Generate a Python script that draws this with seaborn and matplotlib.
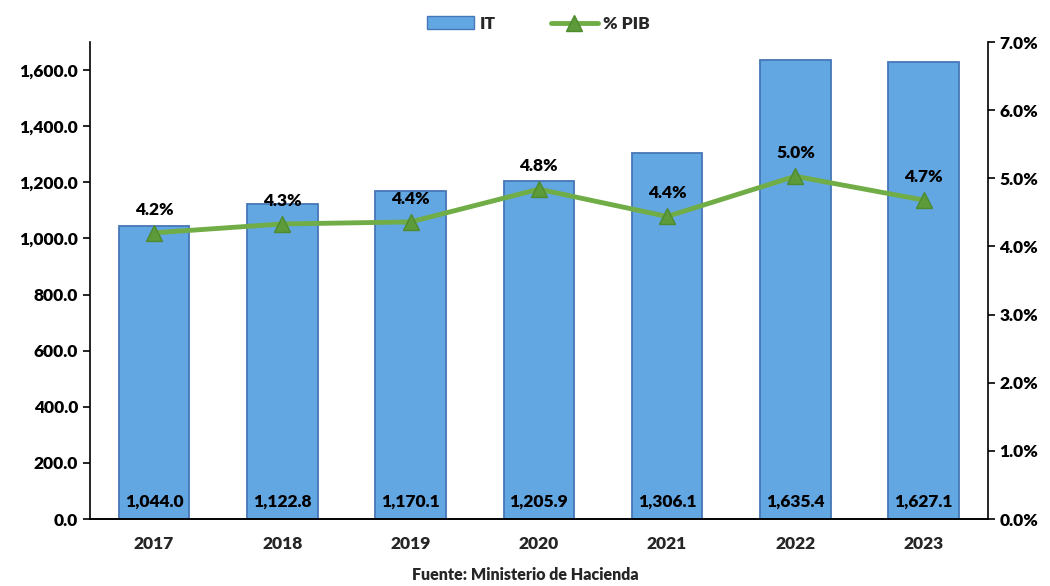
import numpy as np
import pandas as pd
import matplotlib.pyplot as plt
from matplotlib.ticker import FuncFormatter, FixedLocator
from matplotlib.lines import Line2D
from matplotlib.patches import Patch
import seaborn as sns

years = ["2017", "2018", "2019", "2020", "2021", "2022", "2023"]
it_values = [1044.0, 1122.8, 1170.1, 1205.9, 1306.1, 1635.4, 1627.1]
pib_values = [4.2, 4.33, 4.36, 4.84, 4.44, 5.03, 4.68]

sns.set_style("white")
plt.rcParams['font.family'] = ['Lato', 'DejaVu Sans']
plt.rcParams['font.weight'] = 'heavy'

df = pd.DataFrame({"year": years, "IT": it_values, "PIB": pib_values})

fig = plt.figure(figsize=(10.5, 5.86), dpi=100)
ax = fig.add_axes([0.0857, 0.1143, 0.855, 0.814])

bar_color = "#62a6e2"
edge_color = "#4677b8"
sns.barplot(data=df, x="year", y="IT", color=bar_color, width=0.55,
            edgecolor=edge_color, linewidth=1.3, saturation=1, ax=ax)

ax.set_ylim(0, 1700)
ax.set_xlim(-0.5, 6.5)
ax.yaxis.set_major_locator(FixedLocator(np.arange(0, 1601, 200)))
ax.yaxis.set_major_formatter(FuncFormatter(lambda v, p: f"{v:,.1f}"))
ax.set_xlabel("")
ax.set_ylabel("")

for i, v in enumerate(it_values):
    ax.text(i, 62, f"{v:,.1f}", ha="center", va="center", fontsize=12.5,
            fontweight="heavy", color="black")

ax2 = ax.twinx()
ax2.set_position([0.0857, 0.1143, 0.855, 0.814])
line_color = "#70ad47"
ax2.plot(range(len(years)), pib_values, color=line_color, linewidth=3.5,
         marker="^", markersize=11, markerfacecolor="#5c9a3a",
         markeredgecolor="#4e8a2e", zorder=5)
ax2.set_ylim(0, 7)
ax2.yaxis.set_major_locator(FixedLocator(np.arange(0, 7.01, 1)))
ax2.yaxis.set_major_formatter(FuncFormatter(lambda v, p: f"{v:.1f}%"))
for i, v in enumerate(pib_values):
    ax2.text(i, v + 0.22, f"{v:.1f}%", ha="center", va="bottom", fontsize=12.5,
             fontweight="heavy", color="black")

for a in (ax, ax2):
    a.spines["top"].set_visible(False)
    for s in ("left", "right", "bottom"):
        a.spines[s].set_color("black")
        a.spines[s].set_linewidth(1.2)
    a.tick_params(axis="y", direction="out", length=5, width=1.2,
                  labelsize=12.5, colors="black")
ax.spines["right"].set_visible(False)
ax2.spines["left"].set_visible(False)

ax.tick_params(axis="x", which="major", length=0, labelsize=12.5, pad=12)
ax.xaxis.set_minor_locator(FixedLocator(np.arange(-0.5, 6.6, 1)))
ax.tick_params(axis="x", which="minor", length=5, width=1.2, direction="out")
for lbl in ax.get_xticklabels() + ax.get_yticklabels() + ax2.get_yticklabels():
    lbl.set_fontweight("heavy")

handles = [Patch(facecolor=bar_color, edgecolor=edge_color, label="IT"),
           Line2D([0], [0], color=line_color, lw=3.5, marker="^", markersize=11,
                  markerfacecolor="#5c9a3a", markeredgecolor="#4e8a2e", label="% PIB")]
fig.legend(handles=handles, loc="upper center", bbox_to_anchor=(0.513, 1.0), ncol=2,
           frameon=False, prop={"weight": "heavy", "size": 12.5},
           handlelength=2.7, columnspacing=3.2, handletextpad=0.3)

fig.text(0.5, 0.018, "Fuente: Ministerio de Hacienda", ha="center", va="center",
         fontsize=11.5, fontweight="heavy")

fig.savefig("out.png", dpi=100)
